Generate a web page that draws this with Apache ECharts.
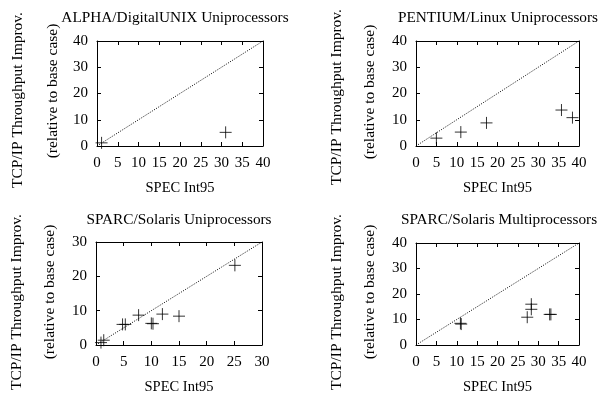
<!DOCTYPE html>
<html><head><meta charset="utf-8">
<script src="https://cdn.jsdelivr.net/npm/echarts@6/dist/echarts.min.js"></script>
<style>html,body{margin:0;padding:0;background:#fff}#c{width:603px;height:396px}</style>
</head><body><div id="c"></div>
<script>
const titles = ["ALPHA/DigitalUNIX Uniprocessors", "PENTIUM/Linux Uniprocessors", "SPARC/Solaris Uniprocessors", "SPARC/Solaris Multiprocessors"];
const xAxisTitle = "SPEC Int95";
const yAxisTitle1 = "TCP/IP Throughput Improv.";
const yAxisTitle2 = "(relative to base case)";

const alphaX = [1.1, 31];
const alphaY = [1.2, 5.2];
const pentiumX = [5, 11, 17.3, 35.7, 38.4];
const pentiumY = [3, 5.3, 8.8, 13.7, 10.8];
const sparcUniX = [0.9, 1.4, 4.8, 5.3, 7.7, 10, 10.3, 12, 15, 25.1];
const sparcUniY = [0.7, 1.4, 6, 6, 8.7, 6.3, 6.2, 9, 8.4, 23.2];
const sparcMpX = [10.9, 11.1, 27.3, 28.3, 28.3, 32.8, 33.1];
const sparcMpY = [8.5, 8.2, 10.9, 14, 16, 12, 12];

const xTicks40 = [0, 5, 10, 15, 20, 25, 30, 35, 40];
const yTicks40 = [0, 10, 20, 30, 40];
const xTicks30 = [0, 5, 10, 15, 20, 25, 30];
const yTicks30 = [0, 10, 20, 30];

const FONT = '"Liberation Serif", "DejaVu Serif", serif';
const panels = [
  {xs: alphaX, ys: alphaY, xt: xTicks40, yt: yTicks40, grid: {left: 97, top: 41, width: 166, height: 105}, title: [175, 18], y1: [18, 100], y2: [53, 91]},
  {xs: pentiumX, ys: pentiumY, xt: xTicks40, yt: yTicks40, grid: {left: 416, top: 41, width: 163, height: 105}, title: [498, 18], y1: [337, 97], y2: [370, 92]},
  {xs: sparcUniX, ys: sparcUniY, xt: xTicks30, yt: yTicks30, grid: {left: 96, top: 242, width: 166, height: 106}, title: [179, 220], y1: [17, 302], y2: [50, 292]},
  {xs: sparcMpX, ys: sparcMpY, xt: xTicks40, yt: yTicks40, grid: {left: 416, top: 243, width: 163, height: 104}, title: [499, 220], y1: [337, 302], y2: [370, 292]}
];

const grids = [], xAxes = [], yAxes = [], series = [], graphics = [];
const lineStyle = {color: '#000', width: 1};
panels.forEach((p, i) => {
  grids.push(Object.assign({containLabel: false}, p.grid));
  const xmin = p.xt[0], xmax = p.xt[p.xt.length - 1], xint = p.xt[1] - p.xt[0];
  const ymin = p.yt[0], ymax = p.yt[p.yt.length - 1], yint = p.yt[1] - p.yt[0];
  const baseX = {type: 'value', gridIndex: i, min: xmin, max: xmax, interval: xint, splitLine: {show: false},
    axisLine: {show: true, onZero: false, lineStyle}, axisTick: {show: true, inside: true, length: 4, lineStyle}};
  const baseY = {type: 'value', gridIndex: i, min: ymin, max: ymax, interval: yint, splitLine: {show: false},
    axisLine: {show: true, onZero: false, lineStyle}, axisTick: {show: true, inside: true, length: 4, lineStyle}};
  xAxes.push(Object.assign({}, baseX, {position: 'bottom',
    axisLabel: {show: true, color: '#000', fontFamily: FONT, fontSize: 15, margin: 10, showMinLabel: true, showMaxLabel: true},
    name: xAxisTitle, nameLocation: 'middle', nameGap: 35, nameTextStyle: {color: '#000', fontFamily: FONT, fontSize: 14.5}}));
  xAxes.push(Object.assign({}, baseX, {position: 'top', axisLabel: {show: false}}));
  yAxes.push(Object.assign({}, baseY, {position: 'left',
    axisLabel: {show: true, color: '#000', fontFamily: FONT, fontSize: 15, margin: 9, showMinLabel: true, showMaxLabel: true}}));
  yAxes.push(Object.assign({}, baseY, {position: 'right', axisLabel: {show: false}}));
  series.push({type: 'line', xAxisIndex: 2 * i, yAxisIndex: 2 * i, data: [[xmin, ymin], [xmax, ymax]],
    showSymbol: false, symbol: 'none', silent: true, lineStyle: {color: '#000', width: 1, type: [1, 1.5]}, z: 1});
  series.push({type: 'scatter', xAxisIndex: 2 * i, yAxisIndex: 2 * i,
    data: p.xs.map((x, k) => [x, p.ys[k]]),
    symbol: 'path://M0,6H12M6,0V12', symbolSize: 12,
    itemStyle: {color: 'none', borderColor: '#000', borderWidth: 1}, z: 3});
  graphics.push({type: 'text', x: p.title[0], y: p.title[1], style: {text: titles[i], font: '15.3px ' + FONT, fill: '#000', textAlign: 'center', textVerticalAlign: 'middle'}});
  graphics.push({type: 'text', x: p.y1[0], y: p.y1[1], rotation: Math.PI / 2, style: {text: yAxisTitle1, font: '15.5px ' + FONT, fill: '#000', textAlign: 'center', textVerticalAlign: 'middle'}});
  graphics.push({type: 'text', x: p.y2[0], y: p.y2[1], rotation: Math.PI / 2, style: {text: yAxisTitle2, font: '15.5px ' + FONT, fill: '#000', textAlign: 'center', textVerticalAlign: 'middle'}});
});

const chart = echarts.init(document.getElementById('c'), null, {renderer: 'canvas'});
chart.setOption({
  backgroundColor: '#fff',
  animation: false,
  grid: grids, xAxis: xAxes, yAxis: yAxes, series: series, graphic: graphics
});
</script></body></html>
